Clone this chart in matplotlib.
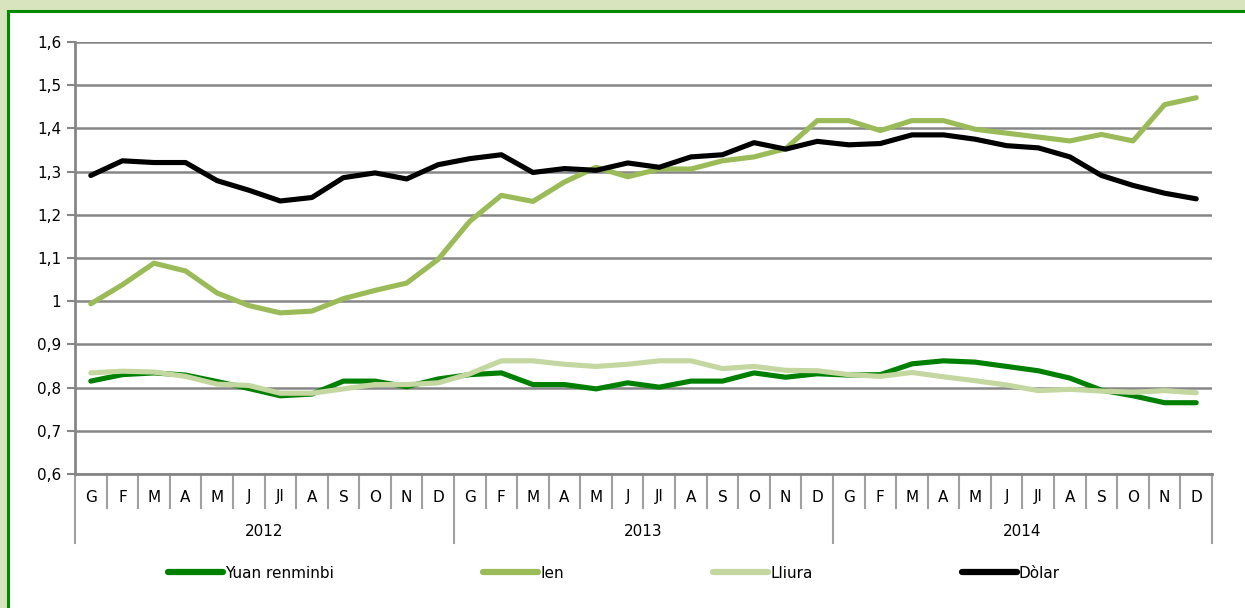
import matplotlib
matplotlib.use("Agg")
import matplotlib.pyplot as plt
from matplotlib.patches import Rectangle
import matplotlib.transforms as mtransforms

months = ["G", "F", "M", "A", "M", "J", "Jl", "A", "S", "O", "N", "D"]
years = ["2012", "2013", "2014"]

yuan = [0.815, 0.830, 0.834, 0.829, 0.814, 0.798, 0.781, 0.785, 0.815, 0.815, 0.802, 0.820,
        0.830, 0.834, 0.807, 0.807, 0.797, 0.811, 0.801, 0.815, 0.815, 0.834, 0.824, 0.832,
        0.829, 0.830, 0.855, 0.862, 0.859, 0.849, 0.839, 0.822, 0.794, 0.781, 0.765, 0.765]
ien = [0.994, 1.038, 1.088, 1.070, 1.019, 0.990, 0.973, 0.977, 1.006, 1.025, 1.042, 1.097,
       1.185, 1.245, 1.231, 1.276, 1.310, 1.288, 1.306, 1.306, 1.325, 1.334, 1.353, 1.418,
       1.418, 1.395, 1.418, 1.418, 1.398, 1.389, 1.380, 1.371, 1.386, 1.371, 1.455, 1.471]
lliura = [0.834, 0.838, 0.836, 0.826, 0.808, 0.805, 0.787, 0.787, 0.797, 0.807, 0.807, 0.811,
          0.832, 0.862, 0.862, 0.854, 0.849, 0.854, 0.862, 0.862, 0.844, 0.849, 0.840, 0.839,
          0.830, 0.826, 0.835, 0.825, 0.816, 0.806, 0.793, 0.796, 0.792, 0.789, 0.793, 0.788]
dolar = [1.291, 1.325, 1.321, 1.321, 1.279, 1.257, 1.232, 1.240, 1.286, 1.297, 1.283, 1.316,
         1.330, 1.339, 1.298, 1.307, 1.303, 1.320, 1.310, 1.334, 1.339, 1.367, 1.352, 1.370,
         1.362, 1.365, 1.385, 1.385, 1.375, 1.360, 1.355, 1.334, 1.291, 1.268, 1.250, 1.237]

series = [("Yuan renminbi", yuan, "#008000"),
          ("Ien", ien, "#9bbb59"),
          ("Lliura", lliura, "#c4d7a0"),
          ("Dòlar", dolar, "#000000")]

W, H = 1245, 608
fig = plt.figure(figsize=(W / 100, H / 100), dpi=100)
fig.patch.set_facecolor("#d7e4bd")
# white panel with green border
fig.patches.append(Rectangle((8 / W, -0.05), 1.1, 1 - 11 / H + 0.05, transform=fig.transFigure,
                             facecolor="white", edgecolor="#008a00", linewidth=2.2, zorder=-10))

ax = fig.add_axes([75 / W, 1 - 474 / H, (1212 - 75) / W, (474 - 42) / H])
ax.set_facecolor("none")

n = len(yuan)
x = list(range(n))
for name, vals, col in series:
    ax.plot(x, vals, color=col, lw=3.7, label=name, solid_capstyle="round", solid_joinstyle="round", zorder=3)

ax.set_xlim(-0.5, n - 0.5)
ax.set_ylim(0.6, 1.6)
yt = [0.6 + 0.1 * i for i in range(11)]
ax.set_yticks(yt)
ax.set_yticklabels(["1" if abs(v - 1) < 1e-9 else ("%.1f" % v).replace(".", ",") for v in yt])
ax.tick_params(axis="y", length=6, width=1.5, color="#868686", labelsize=11, pad=4)
ax.grid(axis="y", color="#868686", lw=1.8, zorder=1)
ax.set_axisbelow(True)
for s in ["top", "right"]:
    ax.spines[s].set_visible(False)
ax.spines["left"].set_color("#868686")
ax.spines["left"].set_linewidth(2)
ax.spines["bottom"].set_color("#868686")
ax.spines["bottom"].set_linewidth(2)
ax.set_xticks([])

trans = mtransforms.blended_transform_factory(ax.transData, ax.transAxes)
ah = 474 - 42
m_depth = -34 / ah
y_depth = -69 / ah
for i in range(n + 1):
    xp = i - 0.5
    depth = y_depth if i % 12 == 0 else m_depth
    ax.plot([xp, xp], [0, depth], transform=trans, color="#a0a0a0", lw=1.5, clip_on=False)
for i in range(n):
    ax.text(i, -23 / ah, months[i % 12], transform=trans, ha="center", va="center", fontsize=11)
for j, yr in enumerate(years):
    ax.text(j * 12 + 5.5, -58 / ah, yr, transform=trans, ha="center", va="center", fontsize=11)

leg = fig.legend(loc="center", bbox_to_anchor=(614 / W, 1 - 573 / H), ncol=4, frameon=False,
                 fontsize=11, handlelength=3.6, handletextpad=0.15, columnspacing=9.75)
for line in leg.get_lines():
    line.set_linewidth(4.5)
    line.set_solid_capstyle("round")

fig.savefig("out.png", dpi=100, facecolor=fig.get_facecolor())
